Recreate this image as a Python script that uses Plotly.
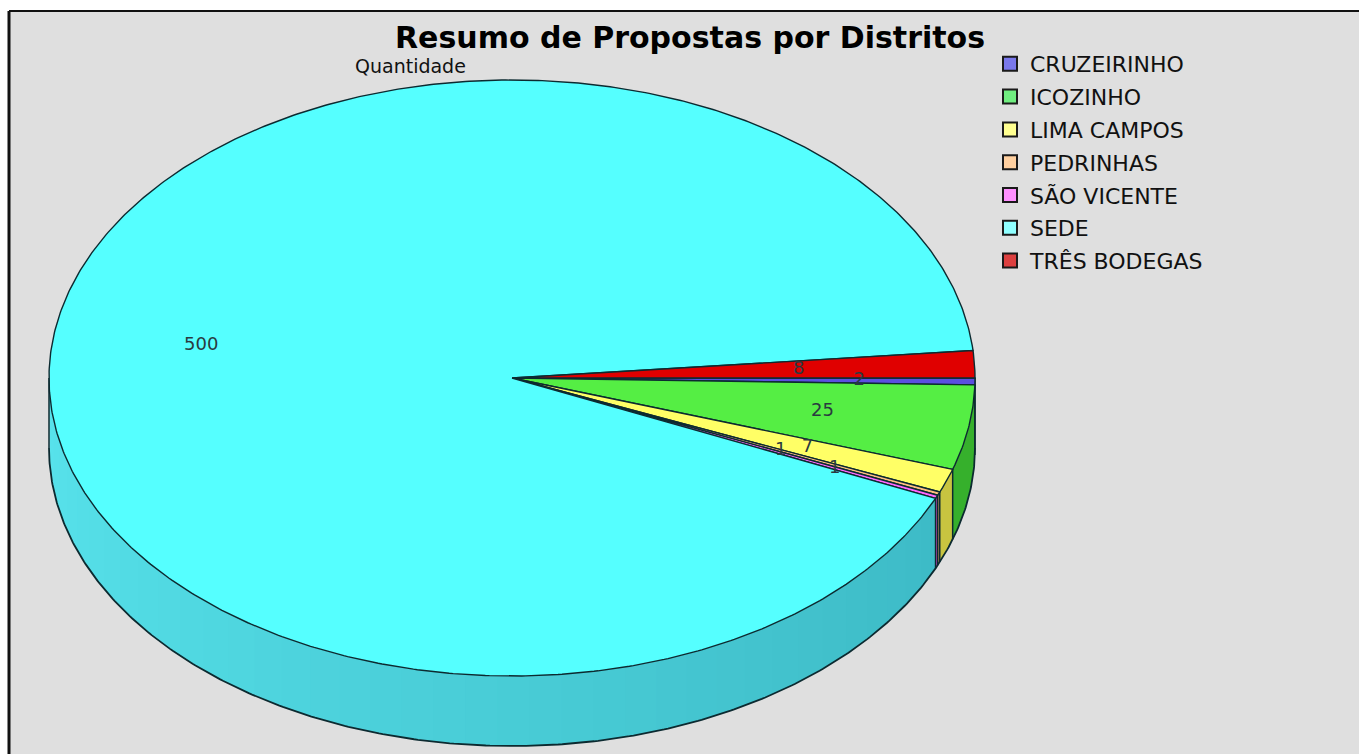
import numpy as np
import plotly.graph_objects as go

# ---------------- data ----------------
categories = ["CRUZEIRINHO", "ICOZINHO", "LIMA CAMPOS", "PEDRINHAS",
              "SÃO VICENTE", "SEDE", "TRÊS BODEGAS"]
values = [2, 25, 7, 1, 1, 500, 8]
top_colors = ["#5a4fe0", "#55ee44", "#ffff66", "#ffc080", "#ff66ff", "#55ffff", "#e00000"]
side_colors = ["#4038a8", "#36b02c", "#c8c440", "#c89060", "#c048c0", "#44cfd8", "#a00000"]
legend_colors = ["#7a78ec", "#70ee80", "#ffff90", "#ffd0a0", "#ff90ff", "#90ffff", "#dd4040"]
title_text = "Resumo de Propostas por Distritos"
subtitle_text = "Quantidade"

# ---------------- geometry (pixels) ----------------
W, H = 1359, 754
CX, CY, RX, RY, DEPTH = 512, 378, 463, 298, 70
LABEL_R = 0.68
# small radial nudges so the tiny neighbouring labels do not sit on top of each other
LABEL_NUDGE = {"TRÊS BODEGAS": -0.06, "CRUZEIRINHO": 0.07,
               "PEDRINHAS": -0.05, "SÃO VICENTE": 0.08}
OUTLINE = "#0c2a30"

total = float(sum(values))
ends = np.cumsum(values) / total * 360.0
starts = np.concatenate([[0.0], ends[:-1]])


def arc(t0, t1, step=0.5):
    n = max(int(abs(t1 - t0) / step) + 2, 2)
    ts = np.radians(np.linspace(t0, t1, n))
    return CX + RX * np.cos(ts), CY + RY * np.sin(ts)


def lerp(c1, c2, f):
    a = [int(c1[i:i + 2], 16) for i in (1, 3, 5)]
    b = [int(c2[i:i + 2], 16) for i in (1, 3, 5)]
    return "#%02x%02x%02x" % tuple(int(round(a[k] + (b[k] - a[k]) * f)) for k in range(3))


fig = go.Figure()

# ---- rim (visible front half, angles 0..180) ----
for i, cat in enumerate(categories):
    a, b = max(starts[i], 0.0), min(ends[i], 180.0)
    if b <= a:
        continue
    if cat == "SEDE":
        edges = np.arange(a, b, 4.0).tolist() + [b]
    else:
        edges = [a, b]
    for j in range(len(edges) - 1):
        s0, s1 = edges[j], min(edges[j + 1] + 0.6, b)
        xt, yt = arc(s0, s1)
        xb, yb = xt[::-1], yt[::-1] + DEPTH
        if cat == "SEDE":
            f = ((s0 + s1) / 2 - a) / (b - a)
            col = lerp("#3dbac6", "#58e4ec", f)
        else:
            col = side_colors[i]
        fig.add_trace(go.Scatter(
            x=np.concatenate([xt, xb, xt[:1]]), y=np.concatenate([yt, yb, yt[:1]]),
            mode="lines", fill="toself", fillcolor=col, line=dict(width=0),
            hoverinfo="skip", showlegend=False))

# rim outlines: bottom arc and vertical edges at slice boundaries
xb, yb = arc(0, 180)
fig.add_trace(go.Scatter(x=xb, y=yb + DEPTH, mode="lines",
                         line=dict(color=OUTLINE, width=1.8),
                         hoverinfo="skip", showlegend=False))
bounds = [0.0, 180.0] + [s for s in starts if 0 < s < 180]
for t in bounds:
    x0, y0 = arc(t, t)
    fig.add_trace(go.Scatter(x=[x0[0], x0[0]], y=[y0[0], y0[0] + DEPTH], mode="lines",
                             line=dict(color=OUTLINE, width=1.5),
                             hoverinfo="skip", showlegend=False))

# ---- top faces ----
for i, cat in enumerate(categories):
    xs, ys = arc(starts[i], ends[i])
    fig.add_trace(go.Scatter(
        x=np.concatenate([[CX], xs, [CX]]), y=np.concatenate([[CY], ys, [CY]]),
        mode="lines", fill="toself", fillcolor=top_colors[i],
        line=dict(color=OUTLINE, width=1.4),
        name=cat, text=[f"{cat}: {values[i]}"] * (len(xs) + 2), hoverinfo="text",
        hoveron="fills", showlegend=False))

# ---- value labels ----
mids = np.radians((starts + ends) / 2)
radii = np.array([LABEL_R + LABEL_NUDGE.get(c, 0.0) for c in categories])
fig.add_trace(go.Scatter(
    x=CX + radii * RX * np.cos(mids), y=CY + radii * RY * np.sin(mids),
    mode="text", text=[str(v) for v in values],
    textfont=dict(family="DejaVu Sans", size=18, color="#2a3a40"),
    hoverinfo="skip", showlegend=False))

# ---- legend entries ----
for i, cat in enumerate(categories):
    fig.add_trace(go.Scatter(
        x=[None], y=[None], mode="markers", name=cat, legendgroup=cat,
        marker=dict(symbol="square", size=14, color=legend_colors[i],
                    line=dict(color="#1a1a1a", width=2)),
        showlegend=True))

# ---- background frame ----
fig.add_shape(type="rect", x0=9, y0=11, x1=W + 5, y1=H + 5, xref="x", yref="y",
              fillcolor="#dfdfdf", line=dict(width=0), layer="below")
fig.add_shape(type="line", x0=9, y0=11, x1=9, y1=H + 5, xref="x", yref="y",
              line=dict(color="#111111", width=3), layer="below")
fig.add_shape(type="line", x0=9, y0=11, x1=W + 5, y1=11, xref="x", yref="y",
              line=dict(color="#111111", width=2), layer="below")

fig.add_annotation(x=410, y=66, xref="x", yref="y", text=subtitle_text, showarrow=False,
                   font=dict(family="DejaVu Sans", size=19, color="#111111"))

fig.update_layout(
    width=W, height=H,
    margin=dict(l=0, r=0, t=0, b=0),
    paper_bgcolor="white", plot_bgcolor="white",
    title=dict(text=title_text, x=690 / W, y=1 - 37 / H, xanchor="center", yanchor="middle",
               font=dict(family="DejaVu Sans", size=30, color="#000000", weight=700)),
    xaxis=dict(range=[0, W], visible=False, fixedrange=True, domain=[0, 1]),
    yaxis=dict(range=[H, 0], visible=False, fixedrange=True, domain=[0, 1]),
    legend=dict(x=990 / W, y=1 - 43 / H, xanchor="left", yanchor="top",
                bgcolor="rgba(0,0,0,0)", tracegroupgap=1.2,
                font=dict(family="DejaVu Sans", size=22, color="#111111")),
    showlegend=True,
)

fig.write_html("out.html", config={"displayModeBar": False},
               post_script="document.body.style.margin='0';")
